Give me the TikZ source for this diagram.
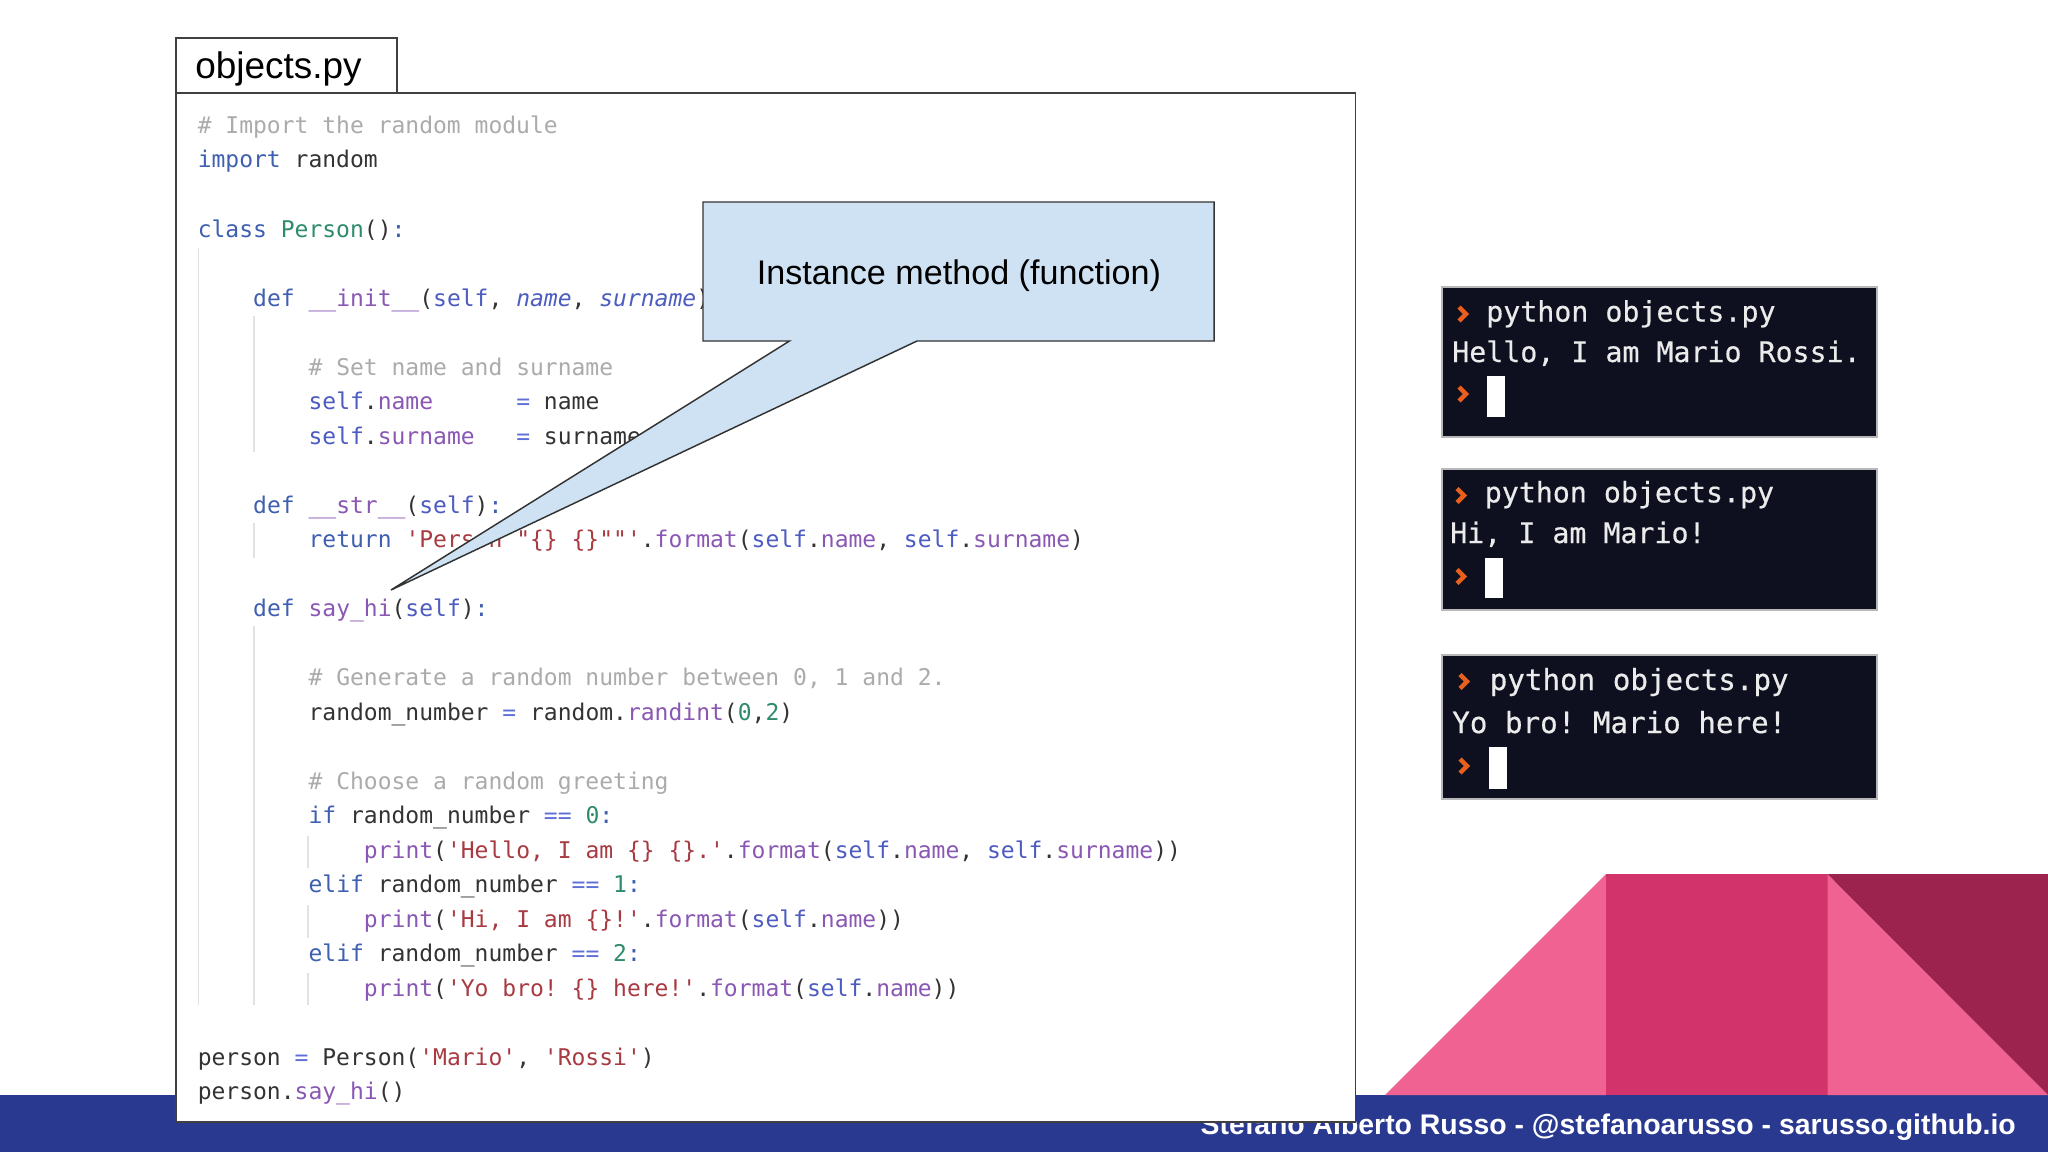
\documentclass[tikz,border=0pt]{standalone}
\usepackage{fontspec}
\setmainfont{Liberation Sans}
\newfontfamily\codefont{DejaVu Sans Mono}
\newfontfamily\termfont[FakeBold=0.5]{DejaVu Sans Mono}
\definecolor{band}{HTML}{2A3990}
\definecolor{pinkA}{HTML}{F06292}
\definecolor{pinkB}{HTML}{D1336A}
\definecolor{pinkC}{HTML}{9C234E}
\definecolor{callfill}{HTML}{CFE2F3}
\definecolor{termbg}{HTML}{0E1020}
\definecolor{kwc}{HTML}{3F5FB0}
\definecolor{selfc}{HTML}{4C5CC0}
\definecolor{func}{HTML}{8A58B4}
\definecolor{comm}{HTML}{ABABAB}
\definecolor{strc}{HTML}{A83A42}
\definecolor{numc}{HTML}{2E8B6E}
\definecolor{opc}{HTML}{5F6FD8}
\definecolor{plain}{HTML}{333333}
\definecolor{guide}{HTML}{E2E2E2}
\definecolor{promptc}{HTML}{E8601C}
\newcommand\cK[1]{\textcolor{kwc}{#1}}
\newcommand\cS[1]{\textcolor{selfc}{#1}}
\newcommand\cF[1]{\textcolor{func}{#1}}
\newcommand\cC[1]{\textcolor{comm}{#1}}
\newcommand\cT[1]{\textcolor{strc}{#1}}
\newcommand\cN[1]{\textcolor{numc}{#1}}
\newcommand\cO[1]{\textcolor{opc}{#1}}
\tikzset{
  codeline/.style={anchor=base west,inner sep=0pt,text=plain,font=\codefont\frenchspacing\fontsize{17.25}{20}\selectfont},
  termline/.style={anchor=base west,inner sep=0pt,text=white!92!black,font=\termfont\frenchspacing\fontsize{21.2}{24}\selectfont},
  termlinebig/.style={termline,font=\termfont\frenchspacing\fontsize{21.9}{24}\selectfont},
  termbox/.style={draw=black!28,fill=termbg,line width=1.5pt},
  cursorbox/.style={fill=white},
  chevron/.style={draw=promptc,line width=3.4pt},
  guideline/.style={draw=guide,line width=0.9pt},
  panel/.style={draw=black!75,fill=white,line width=1.3pt},
}
\newcommand\cl[3]{\node[codeline] (L#1) at ({197.5+13.85*#2},{133.5+34.5*#1}) {#3};}
\begin{document}
\begin{tikzpicture}[x=0.75pt,y=-0.75pt]
\useasboundingbox (0,0) rectangle (2048,1152);
\fill[white] (0,0) rectangle (2048,1152);
% footer band and decoration
\fill[band] (0,1095) rectangle (2048,1152);
\fill[pinkA] (1385,1095) -- (1606,874) -- (1606,1095) -- cycle;
\fill[pinkB] (1606,874) rectangle (1827.5,1095);
\fill[pinkA] (1827.5,874) -- (2048,1095) -- (1827.5,1095) -- cycle;
\fill[pinkC] (1827.5,874) -- (2048,874) -- (2048,1095) -- cycle;
\node[anchor=base east,inner sep=0pt,text=white,font=\bfseries\fontsize{21.3}{25}\selectfont] (footer) at (2016,1134) {Stefano Alberto Russo - @stefanoarusso - sarusso.github.io};
% panels
\draw[panel] (176,38) rectangle (397,92.7);
\node[anchor=base west,inner sep=0pt,text=black,font=\fontsize{27.7}{32}\selectfont] (tab) at (195,79) {objects.py};
\draw[panel] (176,92.7) rectangle (1355.5,1122);
% indentation guides
\draw[guideline] (198.5,248) -- (198.5,1005);
\draw[guideline] (254,316) -- (254,452);
\draw[guideline] (254,523) -- (254,558);
\draw[guideline] (254,626) -- (254,1005);
\draw[guideline] (308,836) -- (308,868);
\draw[guideline] (308,905) -- (308,938);
\draw[guideline] (308,973) -- (308,1005);
% code
\cl{0}{0}{\cC{\# Import the random module}}
\cl{1}{0}{\cK{import} random}
\cl{3}{0}{\cK{class} \cN{Person}()\cK{:}}
\cl{5}{4}{\cK{def} \cF{\_\_init\_\_}(\cS{self}, \cS{\itshape name}, \cS{\itshape surname}):}
\cl{7}{8}{\cC{\# Set name and surname}}
\cl{8}{8}{\cS{self}.\cF{name}\ \ \ \ \ \ \cO{=} name}
\cl{9}{8}{\cS{self}.\cF{surname}\ \ \ \cO{=} surname}
\cl{11}{4}{\cK{def} \cF{\_\_str\_\_}(\cS{self})\cK{:}}
\cl{12}{8}{\cK{return} \cT{'Person "\{\} \{\}""'}.\cF{format}(\cS{self}.\cF{name}, \cS{self}.\cF{surname})}
\cl{14}{4}{\cK{def} \cF{say\_hi}(\cS{self})\cK{:}}
\cl{16}{8}{\cC{\# Generate a random number between 0, 1 and 2.}}
\cl{17}{8}{random\_number \cO{=} random.\cF{randint}(\cN{0},\cN{2})}
\cl{19}{8}{\cC{\# Choose a random greeting}}
\cl{20}{8}{\cK{if} random\_number \cO{==} \cN{0}\cK{:}}
\cl{21}{12}{\cF{print}(\cT{'Hello, I am \{\} \{\}.'}.\cF{format}(\cS{self}.\cF{name}, \cS{self}.\cF{surname}))}
\cl{22}{8}{\cK{elif} random\_number \cO{==} \cN{1}\cK{:}}
\cl{23}{12}{\cF{print}(\cT{'Hi, I am \{\}!'}.\cF{format}(\cS{self}.\cF{name}))}
\cl{24}{8}{\cK{elif} random\_number \cO{==} \cN{2}\cK{:}}
\cl{25}{12}{\cF{print}(\cT{'Yo bro! \{\} here!'}.\cF{format}(\cS{self}.\cF{name}))}
\cl{27}{0}{person \cO{=} Person(\cT{'Mario'}, \cT{'Rossi'})}
\cl{28}{0}{person.\cF{say\_hi}()}
% callout
\coordinate (tip) at (391,590);
\draw[fill=callfill,draw=black!80,line width=1.1pt,line join=miter]
  (703,202) -- (1214,202) -- (1214,341) -- (917,341) -- (tip) -- (789.5,341) -- (703,341) -- cycle;
\node[inner sep=0pt,text=black,font=\fontsize{25.6}{30}\selectfont] (calltext) at (959,276) {Instance method (function)};
% terminal 1
\draw[termbox] (1441.7,287) rectangle (1876.7,437);
\draw[chevron] (1459,307) -- (1466,314) -- (1459,321);
\node[termline] (t1a) at (1486,321.6) {python objects.py};
\node[termline] (t1b) at (1452,362) {Hello, I am Mario Rossi.};
\draw[chevron] (1459,387) -- (1466,394) -- (1459,401);
\fill[cursorbox] (1487,376) rectangle (1505,417);
% terminal 2
\draw[termbox] (1441.7,468.7) rectangle (1876.7,610);
\draw[chevron] (1457,488.5) -- (1464,495.5) -- (1457,502.5);
\node[termline] (t2a) at (1484.5,502.4) {python objects.py};
\node[termline] (t2b) at (1450,543) {Hi, I am Mario!};
\draw[chevron] (1457,569.5) -- (1464,576.5) -- (1457,583.5);
\fill[cursorbox] (1485,557.5) rectangle (1502.5,598);
% terminal 3
\draw[termbox] (1441.7,654.6) rectangle (1876.7,799);
\draw[chevron] (1460,674.5) -- (1467,681.5) -- (1460,688.5);
\node[termlinebig] (t3a) at (1489.5,690) {python objects.py};
\node[termlinebig] (t3b) at (1452,733) {Yo bro! Mario here!};
\draw[chevron] (1460,759) -- (1467,766) -- (1460,773);
\fill[cursorbox] (1489,747) rectangle (1507,789);
\end{tikzpicture}
\end{document}
